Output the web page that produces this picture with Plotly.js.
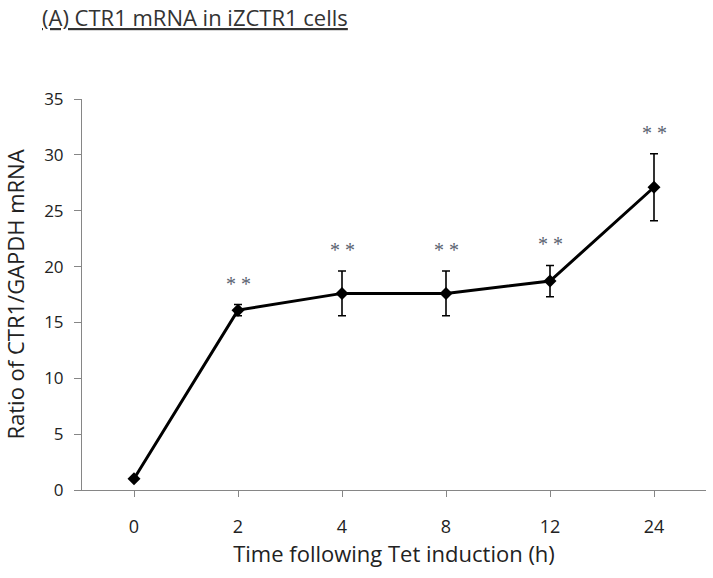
<!DOCTYPE html>
<html>
<head>
<meta charset="utf-8">
<script src="https://cdn.plot.ly/plotly-3.0.1.min.js"></script>
<style>html,body{margin:0;padding:0;background:#fff;}#chart{width:713px;height:578px;}</style>
</head>
<body>
<div id="chart"></div>
<script>
const categories = ["0", "2", "4", "8", "12", "24"];
const ratio = [1.0, 16.1, 17.6, 17.6, 18.7, 27.1];
const errors = [0, 0.5, 2.0, 2.0, 1.4, 3.0];
const significance = ["", "* *", "* *", "* *", "* *", "* *"];

const trace = {
  x: categories,
  y: ratio,
  type: "scatter",
  mode: "lines+markers",
  line: {color: "#000", width: 3},
  marker: {symbol: "diamond", size: 10, color: "#000"},
  error_y: {type: "data", array: errors, visible: true, color: "#000", thickness: 1.6, width: 4},
  showlegend: false,
  hoverinfo: "skip"
};

const annotations = [];
categories.forEach((c, i) => {
  if (significance[i]) {
    annotations.push({
      x: i, y: ratio[i] + errors[i], xref: "x", yref: "y",
      text: significance[i], showarrow: false,
      yanchor: "bottom", yshift: 8,
      font: {family: "'Liberation Serif', serif", size: 20, color: "#5a6270"}
    });
  }
});
annotations.push({
  xref: "paper", yref: "paper", x: -0.067, y: 1.21, xanchor: "left", yanchor: "middle",
  text: "<u>(A) CTR1 mRNA in iZCTR1 cells</u>", showarrow: false,
  font: {family: "'Open Sans', sans-serif", size: 22, color: "#333"}
});

const layout = {
  width: 713, height: 578,
  margin: {l: 82, r: 7, t: 99, b: 88},
  paper_bgcolor: "#fff", plot_bgcolor: "#fff",
  font: {family: "'Open Sans', sans-serif", color: "#333"},
  xaxis: {
    type: "category", range: [-0.5, 5.5],
    showline: true, linecolor: "#868686", linewidth: 1,
    ticks: "outside", ticklen: 6, tickcolor: "#868686",
    showgrid: false, zeroline: false,
    tickfont: {size: 18, color: "#222"},
    ticklabelstandoff: 14,
    title: {text: "Time following Tet induction (h)", font: {size: 22, color: "#222"}, standoff: 4}
  },
  yaxis: {
    range: [0, 35], dtick: 5,
    showline: true, linecolor: "#868686", linewidth: 1,
    ticks: "outside", ticklen: 7, tickcolor: "#868686",
    showgrid: false, zeroline: false,
    tickfont: {size: 17, color: "#222"},
    ticklabelstandoff: 7,
    title: {text: "Ratio of CTR1/GAPDH mRNA", font: {size: 22, color: "#222"}, standoff: 13}
  },
  annotations: annotations
};

Plotly.newPlot("chart", [trace], layout, {displayModeBar: false, staticPlot: true});
</script>
</body>
</html>
